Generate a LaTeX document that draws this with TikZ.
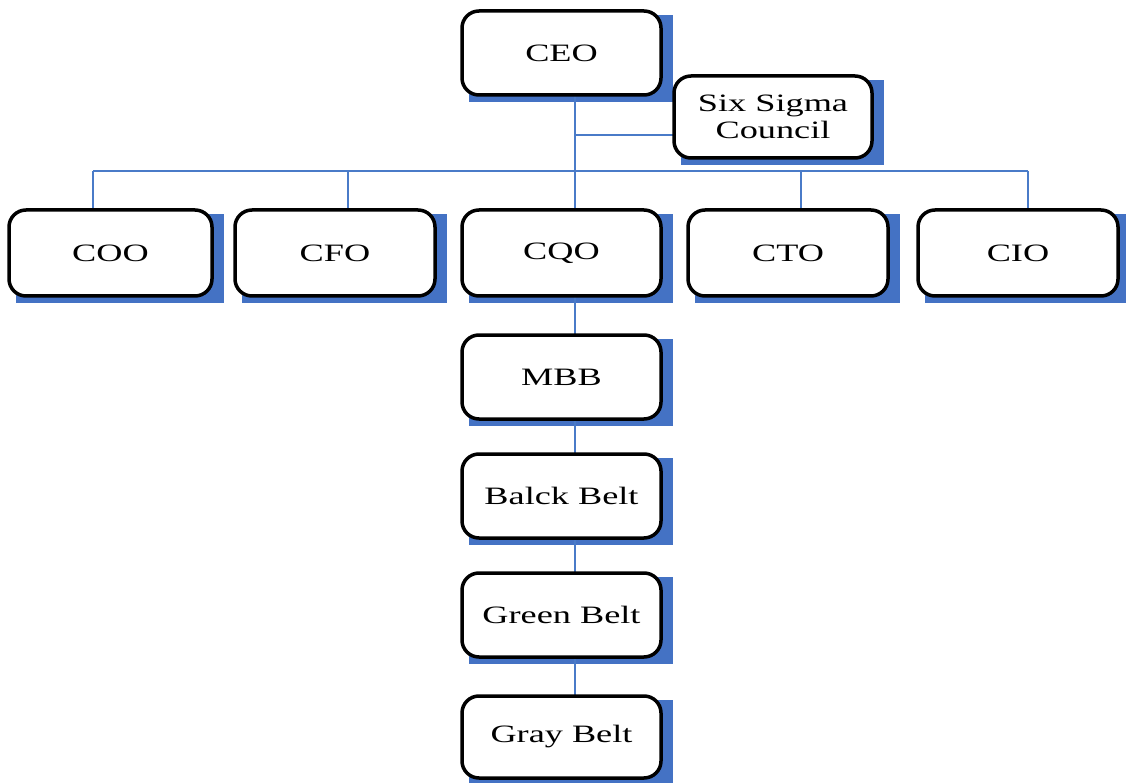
\documentclass[tikz,border=0pt]{standalone}
\usepackage{fontspec}
\setmainfont{Liberation Serif}[FakeStretch=1.45]
\usetikzlibrary{backgrounds}
\definecolor{shadowblue}{HTML}{4472C4}
\definecolor{linkblue}{HTML}{4A7BC8}
\tikzset{
  orgbox/.style={draw=black, line width=3.5pt, fill=white, rounded corners=17pt,
    inner sep=0pt, outer sep=0pt, align=center,
    font=\fontsize{25}{26.5}\selectfont},
  boxshadow/.style={fill=shadowblue},
  conn/.style={draw=linkblue, line width=2.2pt}
}
% box with its blue offset shadow: name, x1, y1, x2, y2, text
\newcommand{\orgnode}[6]{%
  \node[orgbox, minimum width={(#4-#2)*1pt}, minimum height={(#5-#3)*1pt}]
    (#1) at ({(#2+#4)/2},{(#3+#5)/2}) {#6};
  \begin{scope}[on background layer]
    \fill[boxshadow] ([xshift=7pt,yshift=-7pt]#1.south west) rectangle ([xshift=12pt,yshift=-4pt]#1.north east);
  \end{scope}}
\begin{document}
\begin{tikzpicture}[x=1pt,y=-1pt]
\useasboundingbox (0,0) rectangle (1126,783);

\orgnode{ceo}{462}{11}{661}{95}{CEO}
\orgnode{council}{674}{76}{872}{158}{Six Sigma\\Council}
\orgnode{coo}{9}{210}{212}{296}{COO}
\orgnode{cfo}{235}{210}{435}{296}{CFO}
\orgnode{cqo}{462}{210}{661}{296}{CQO}
\orgnode{cto}{688}{210}{888}{296}{CTO}
\orgnode{cio}{918}{210}{1118}{296}{CIO}
\orgnode{mbb}{462}{335}{661}{419}{MBB}
\orgnode{black}{462}{454}{661}{538}{Balck Belt}
\orgnode{green}{462}{573}{661}{657}{Green Belt}
\orgnode{gray}{462}{696}{661}{778}{Gray Belt}

% connector junctions
\coordinate (trunk) at (575,171);
\coordinate (cj) at (575,135);
\coordinate (busL) at (93,171);
\coordinate (dcfo) at (348,171);
\coordinate (dcto) at (801,171);
\coordinate (busR) at (1028,171);

\begin{scope}[on background layer]
  \draw[conn] (trunk |- ceo.south) -- (trunk |- cqo.north);
  \draw[conn] (cj) -- (cj -| council.west);
  \draw[conn] (busL) -- (busR);
  \draw[conn] (busL) -- (busL |- coo.north);
  \draw[conn] (dcfo) -- (dcfo |- cfo.north);
  \draw[conn] (dcto) -- (dcto |- cto.north);
  \draw[conn] (busR) -- (busR |- cio.north);
  \draw[conn] (trunk |- cqo.south) -- (trunk |- mbb.north);
  \draw[conn] (trunk |- mbb.south) -- (trunk |- black.north);
  \draw[conn] (trunk |- black.south) -- (trunk |- green.north);
  \draw[conn] (trunk |- green.south) -- (trunk |- gray.north);
\end{scope}
\end{tikzpicture}
\end{document}
